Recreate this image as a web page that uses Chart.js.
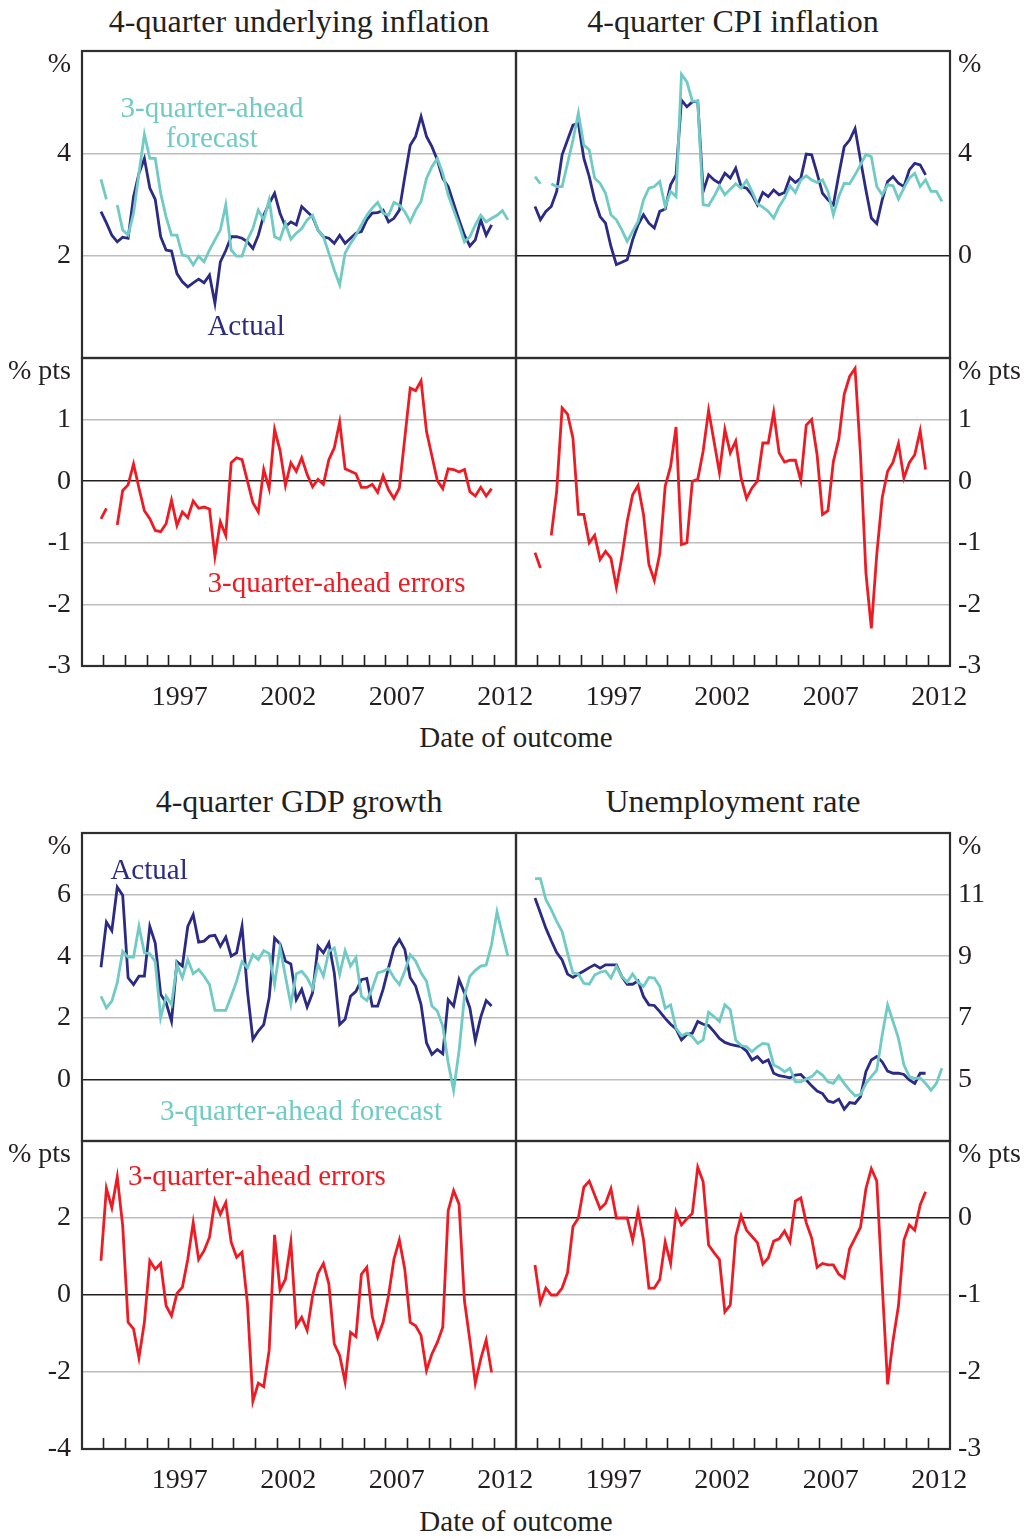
<!DOCTYPE html>
<html>
<head>
<meta charset="utf-8">
<script src="https://cdn.jsdelivr.net/npm/chart.js@4.4.1/dist/chart.umd.min.js"></script>
<style>
  html, body { margin: 0; padding: 0; background: #ffffff; }
  body { width: 1027px; height: 1538px; position: relative; overflow: hidden;
         font-family: 'Liberation Serif', 'Times New Roman', serif; color: #231f20; }
  canvas { position: absolute; }
  .label { position: absolute; white-space: nowrap; transform: translateX(-50%); }
  .title { font-size: 32px; line-height: 32px; }
  .axis-title { font-size: 29px; line-height: 29px; }
</style>
</head>
<body>
<div class="label title" style="left:299px; top:5px;">4-quarter underlying inflation</div>
<div class="label title" style="left:733px; top:5px;">4-quarter CPI inflation</div>
<div class="label axis-title" style="left:516px; top:723px;">Date of outcome</div>
<div class="label title" style="left:299px; top:785px;">4-quarter GDP growth</div>
<div class="label title" style="left:733px; top:785px;">Unemployment rate</div>
<div class="label axis-title" style="left:516px; top:1507px;">Date of outcome</div>

<script>
// ---- Quarterly outcome dates: Dec 1993 to Sep 2012 ----
const firstQuarter = [1993, 4];
const quarterCount = 76;
const quarters = Array.from({ length: quarterCount }, (_, i) => {
  const q = firstQuarter[1] - 1 + i;
  return (firstQuarter[0] + Math.floor(q / 4)) + ' Q' + (q % 4 + 1);
});

// Year axis: tick marks at the start of each year, labels centred on the year
const tickYears = [1994, 1995, 1996, 1997, 1998, 1999, 2000, 2001, 2002, 2003,
                   2004, 2005, 2006, 2007, 2008, 2009, 2010, 2011, 2012];
const labelYears = [1997, 2002, 2007, 2012];

// ---- 4-quarter underlying inflation (%) ----
const underlyingActual = [2.86,2.64,2.40,2.27,2.36,2.34,3.15,3.61,3.90,3.32,
  3.10,2.37,2.11,2.09,1.65,1.49,1.39,1.47,1.54,1.47,
  1.62,1.07,1.88,2.10,2.37,2.37,2.34,2.27,2.14,2.40,
  2.79,3.02,3.22,2.83,2.57,2.66,2.60,2.96,2.86,2.76,
  2.50,2.37,2.34,2.24,2.40,2.24,2.34,2.44,2.47,2.70,
  2.83,2.84,2.89,2.66,2.73,2.89,3.54,4.16,4.33,4.72,
  4.33,4.13,3.87,3.51,3.35,3.02,2.70,2.40,2.19,2.31,
  2.70,2.40,2.60];
const underlyingForecast = [3.49,3.10,null,2.99,2.50,2.40,2.83,3.61,4.37,3.90,
  3.90,3.22,2.76,2.40,2.40,2.01,1.99,1.82,1.99,1.88,
  2.11,2.31,2.50,2.99,2.11,1.99,1.99,2.31,2.53,2.89,
  2.70,3.09,2.37,2.32,2.63,2.32,2.44,2.53,2.70,2.79,
  2.50,2.37,2.05,1.72,1.43,2.05,2.24,2.40,2.60,2.79,
  2.93,3.04,2.83,2.79,3.04,2.99,2.86,2.66,2.89,3.06,
  3.51,3.74,3.90,3.61,3.19,2.89,2.60,2.27,2.37,2.60,
  2.79,2.66,2.73,2.79,2.88,2.70];
const underlyingErrors = [-0.61,-0.44,null,-0.71,-0.15,-0.06,0.28,-0.11,-0.48,-0.61,
  -0.80,-0.82,-0.69,-0.31,-0.72,-0.50,-0.59,-0.32,-0.44,-0.42,
  -0.45,-1.22,-0.66,-0.88,0.30,0.38,0.35,0.00,-0.35,-0.50,
  0.19,-0.12,0.84,0.50,-0.07,0.30,0.16,0.38,0.11,-0.09,
  0.03,-0.05,0.35,0.54,0.96,0.20,0.16,0.12,-0.10,-0.10,
  -0.05,-0.18,0.09,-0.14,-0.28,-0.11,0.70,1.51,1.47,1.63,
  0.81,0.41,0.01,-0.12,0.20,0.19,0.15,0.19,-0.17,-0.24,
  -0.10,-0.24,-0.12];

// ---- 4-quarter CPI inflation (%) ----
const cpiActual = [1.92,1.40,1.73,1.92,2.51,3.94,4.52,5.10,5.17,3.81,
  3.09,2.18,1.53,1.27,0.36,-0.35,-0.26,-0.16,0.62,1.21,
  1.60,1.27,1.08,1.73,1.82,2.77,3.16,6.08,5.82,6.01,
  6.04,2.51,3.16,2.96,2.83,3.22,3.03,3.42,2.70,2.64,
  2.38,1.99,2.47,2.31,2.57,2.38,2.47,3.06,2.86,3.03,
  3.97,3.94,3.22,2.44,2.18,1.99,3.16,4.26,4.52,4.97,
  3.74,2.57,1.47,1.25,2.18,2.90,3.09,2.83,2.70,3.35,
  3.61,3.55,3.16];
const cpiForecast = [3.09,2.81,null,2.81,2.70,2.70,3.61,4.52,5.58,4.32,
  4.13,3.03,2.83,2.44,1.60,1.40,1.01,0.56,0.95,1.34,
  2.18,2.64,2.70,2.90,1.92,2.51,2.31,7.09,6.79,6.04,
  6.04,1.99,1.96,2.31,2.73,2.38,2.60,2.81,2.64,2.94,
  2.51,2.03,1.90,1.73,1.47,1.92,2.25,2.73,2.47,2.96,
  3.12,2.96,2.86,2.96,2.51,1.60,2.31,2.83,2.81,3.16,
  3.55,3.96,3.87,2.70,2.38,2.77,2.73,2.21,2.64,3.03,
  3.22,2.70,2.96,2.51,2.51,2.12];
const cpiErrors = [-1.16,-1.41,null,-0.88,-0.16,1.19,1.09,0.70,-0.54,-0.54,
  -1.00,-0.88,-1.27,-1.14,-1.25,-1.72,-1.24,-0.65,-0.22,-0.07,
  -0.54,-1.35,-1.61,-1.18,-0.08,0.24,0.88,-1.03,-1.00,0.00,
  0.03,0.49,1.15,0.65,0.14,0.84,0.46,0.65,0.05,-0.28,
  -0.11,0.00,0.62,0.62,1.12,0.46,0.31,0.34,0.34,0.01,
  0.91,1.00,0.43,-0.54,-0.48,0.32,0.68,1.41,1.70,1.83,
  0.43,-1.49,-2.39,-1.19,-0.27,0.16,0.31,0.61,0.05,0.30,
  0.43,0.82,0.19];

// ---- 4-quarter GDP growth (%) ----
const gdpActual = [3.64,5.11,4.83,6.24,5.98,3.30,3.08,3.35,3.35,4.97,
  4.43,2.76,2.49,1.89,3.82,3.68,4.97,5.35,4.46,4.49,
  4.65,4.68,4.32,4.62,4.00,4.11,4.97,2.86,1.30,1.57,
  1.78,2.65,4.59,4.40,3.84,3.75,2.59,2.92,2.35,2.81,
  4.32,4.11,4.43,3.46,1.78,1.95,2.70,2.86,3.24,3.28,
  2.38,2.38,2.92,3.62,4.27,4.54,4.22,3.30,3.03,2.43,
  1.19,0.81,0.97,0.83,2.59,2.38,3.24,2.81,2.32,1.26,
  2.02,2.56,2.38];
const gdpForecast = [2.70,2.32,2.54,3.14,4.16,3.97,3.97,4.97,4.11,4.08,
  3.82,2.00,2.70,2.43,3.73,3.30,3.89,3.43,3.57,3.35,
  3.08,2.24,2.24,2.24,2.70,3.19,3.82,3.62,4.05,3.89,
  4.18,4.08,3.08,4.27,3.35,2.43,3.43,3.51,3.30,2.95,
  3.73,3.35,4.16,4.27,3.41,4.18,3.68,3.95,2.70,2.56,
  2.95,3.46,3.51,3.60,3.30,3.08,3.51,4.05,3.84,3.46,
  3.19,2.38,2.22,1.73,0.54,-0.36,0.92,2.70,3.35,3.54,
  3.68,3.71,4.38,5.44,4.70,4.00];
const gdpErrors = [0.89,2.77,2.27,3.07,1.80,-0.71,-0.88,-1.63,-0.71,0.89,
  0.67,0.82,-0.28,-0.54,0.04,0.20,0.93,1.88,0.92,1.15,
  1.50,2.45,2.10,2.40,1.37,0.98,1.11,-0.23,-2.76,-2.29,
  -2.38,-1.44,1.56,0.13,0.41,1.37,-0.80,-0.58,-0.92,-0.02,
  0.56,0.82,0.29,-1.27,-1.57,-2.26,-0.97,-1.08,0.54,0.72,
  -0.56,-1.10,-0.71,-0.02,0.93,1.43,0.67,-0.71,-0.80,-1.05,
  -1.96,-1.53,-1.23,-0.84,2.19,2.71,2.36,-0.15,-1.18,-2.29,
  -1.66,-1.17,-2.01];

// ---- Unemployment rate (%) ----
const unempActual = [10.89,10.40,9.91,9.50,9.12,8.88,8.42,8.31,8.42,8.52,
  8.63,8.72,8.61,8.72,8.72,8.72,8.34,8.09,8.09,8.20,
  7.69,7.42,7.40,7.20,6.98,6.79,6.64,6.28,6.46,6.50,
  6.88,6.79,6.75,6.55,6.33,6.20,6.14,6.10,6.06,5.92,
  5.63,5.74,5.55,5.63,5.20,5.12,5.09,5.05,5.14,5.16,
  4.98,4.79,4.62,4.54,4.30,4.25,4.36,4.03,4.25,4.22,
  4.44,5.25,5.63,5.74,5.57,5.27,5.20,5.20,5.16,4.98,
  4.87,5.20,5.20];
const unempForecast = [11.52,11.52,10.84,10.51,10.13,9.80,9.10,8.45,8.42,8.12,
  8.09,8.39,8.48,8.52,8.29,8.67,8.34,8.16,8.42,8.16,
  8.02,8.31,8.29,8.02,7.31,7.42,6.66,6.42,6.50,6.39,
  6.17,6.28,7.18,7.04,6.88,7.42,7.26,6.28,6.10,6.06,
  5.90,6.06,6.17,6.14,5.47,5.38,5.25,5.36,4.92,4.92,
  5.01,5.09,5.27,5.14,4.92,4.87,5.12,4.87,4.65,4.47,
  4.51,4.87,5.09,5.30,6.44,7.42,6.88,6.33,5.47,5.09,
  5.03,5.05,4.87,4.65,4.87,5.36];
const unempErrors = [-0.61,-1.10,-0.91,-1.00,-1.00,-0.91,-0.71,-0.11,0.00,0.40,
  0.48,0.30,0.12,0.19,0.38,0.00,0.00,0.00,-0.29,0.09,
  -0.28,-0.91,-0.91,-0.80,-0.31,-0.59,0.08,-0.09,-0.01,0.06,
  0.66,0.47,-0.35,-0.45,-0.54,-1.22,-1.13,-0.24,0.03,-0.16,
  -0.24,-0.32,-0.60,-0.52,-0.30,-0.27,-0.17,-0.31,0.22,0.26,
  -0.06,-0.26,-0.64,-0.59,-0.61,-0.61,-0.73,-0.78,-0.40,-0.26,
  -0.12,0.38,0.64,0.48,-0.86,-2.16,-1.59,-1.14,-0.29,-0.09,
  -0.16,0.17,0.34];

// ---- Styling ----
const FONT = "'Liberation Serif', 'Times New Roman', serif";
const INK = '#231f20';
const NAVY = '#2b2a84';
const TEAL = '#6fcbc4';
const RED = '#ed1c24';
const GRID = '#bdbdbd';

// quarter label -> decimal year at the middle of the quarter
function quarterPosition(label) {
  const [y, q] = label.split(' Q').map(Number);
  return y + (q - 0.5) / 4;
}
function toPoints(values) {
  return values.map((v, i) => ({ x: quarterPosition(quarters[i]), y: v }));
}

const framePlugin = {
  id: 'panelFrame',
  afterDraw(chart) {
    const { ctx, chartArea: a } = chart;
    ctx.save();
    ctx.strokeStyle = '#2e2e2e';
    ctx.lineWidth = 2.2;
    ctx.strokeRect(a.left, a.top, a.right - a.left, a.bottom - a.top);
    ctx.restore();
  }
};

const notesPlugin = {
  id: 'seriesNotes',
  afterDatasetsDraw(chart, args, opts) {
    const notes = opts.items || [];
    const { ctx, scales } = chart;
    ctx.save();
    ctx.font = '29px ' + FONT;
    ctx.textAlign = 'center';
    ctx.textBaseline = 'middle';
    notes.forEach(n => {
      ctx.fillStyle = n.color;
      ctx.fillText(n.text, scales.x.getPixelForValue(n.x), scales.y.getPixelForValue(n.y));
    });
    ctx.restore();
  }
};

const PAD = 40;
function makePanel(p) {
  const isLeft = p.side === 'left';
  const axisW = isLeft ? 82 : 77;
  const xAxisH = 60;
  const padL = isLeft ? 0 : 10;
  const padR = isLeft ? 80 : 0;
  const areaW = p.x1 - p.x0, areaH = p.y1 - p.y0;
  const cvLeft = isLeft ? p.x0 - axisW : p.x0 - padL;
  const cvWidth = isLeft ? axisW + areaW + padR : padL + areaW + axisW;
  const cvTop = p.y0 - PAD;
  const cvHeight = PAD + areaH + (p.showX ? xAxisH : PAD);

  const canvas = document.createElement('canvas');
  canvas.width = cvWidth; canvas.height = cvHeight;
  canvas.style.left = cvLeft + 'px'; canvas.style.top = cvTop + 'px';
  canvas.style.width = cvWidth + 'px'; canvas.style.height = cvHeight + 'px';
  document.body.appendChild(canvas);

  const datasets = p.series.map(s => ({
    data: toPoints(s.values),
    borderColor: s.color,
    borderWidth: 2.8,
    pointRadius: 0,
    fill: false,
    tension: 0,
    spanGaps: false,
    order: s.order
  }));

  return new Chart(canvas, {
    type: 'line',
    data: { datasets },
    options: {
      responsive: false,
      animation: false,
      events: [],
      layout: { padding: { top: PAD, bottom: p.showX ? 0 : PAD, left: padL, right: padR } },
      plugins: {
        legend: { display: false },
        tooltip: { enabled: false },
        seriesNotes: { items: p.notes || [] }
      },
      scales: {
        x: {
          type: 'linear', min: 1993, max: 2013,
          display: !!p.showX,
          afterBuildTicks: s => {
            const vals = tickYears.concat(labelYears.map(y => y + 0.5)).sort((a, b) => a - b);
            s.ticks = vals.map(v => ({ value: v }));
          },
          afterFit: s => { if (p.showX) s.height = xAxisH; },
          ticks: {
            autoSkip: false, maxRotation: 0, minRotation: 0, padding: 26,
            color: INK, font: { family: FONT, size: 28 },
            callback: v => (v % 1 === 0.5 ? String(Math.floor(v)) : '')
          },
          grid: {
            drawOnChartArea: false, drawTicks: true, tickLength: -11, tickWidth: 1.6,
            tickColor: ctx => (ctx.tick && ctx.tick.value % 1 === 0) ? INK : 'rgba(0,0,0,0)'
          },
          border: { display: false }
        },
        y: {
          type: 'linear', position: p.side, min: p.yMin, max: p.yMax,
          afterFit: s => { s.width = axisW; },
          ticks: {
            stepSize: p.yStep, autoSkip: false, padding: isLeft ? 11 : 8,
            color: INK, font: { family: FONT, size: 28, lineHeight: 0.95 },
            callback: v => {
              if (v === p.yMax) return ['', p.unit];
              if (v === p.yMin && !p.showX) return '';
              return String(v);
            }
          },
          grid: {
            drawTicks: false, lineWidth: 1.6,
            color: ctx => (ctx.tick && ctx.tick.value === 0) ? INK : GRID
          },
          border: { display: false }
        }
      }
    },
    plugins: [framePlugin, notesPlugin]
  });
}

const L = { x0: 82, x1: 516 }, R = { x0: 516, x1: 950 };

// Upper block: inflation
makePanel(Object.assign({ side: 'left', y0: 51, y1: 358, yMin: 0, yMax: 6, yStep: 2, unit: '%',
  series: [
    { values: underlyingForecast, color: TEAL, order: 0 },
    { values: underlyingActual, color: NAVY, order: 1 }
  ],
  notes: [
    { text: '3-quarter-ahead', x: 1998.99, y: 4.85, color: TEAL },
    { text: 'forecast', x: 1998.99, y: 4.28, color: TEAL },
    { text: 'Actual', x: 2000.56, y: 0.59, color: NAVY }
  ] }, L));
makePanel(Object.assign({ side: 'right', y0: 51, y1: 358, yMin: -4, yMax: 8, yStep: 4, unit: '%',
  series: [
    { values: cpiForecast, color: TEAL, order: 0 },
    { values: cpiActual, color: NAVY, order: 1 }
  ] }, R));
makePanel(Object.assign({ side: 'left', y0: 358, y1: 666, yMin: -3, yMax: 2, yStep: 1, unit: '% pts', showX: true,
  series: [{ values: underlyingErrors, color: RED, order: 0 }],
  notes: [{ text: '3-quarter-ahead errors', x: 2004.73, y: -1.67, color: RED }] }, L));
makePanel(Object.assign({ side: 'right', y0: 358, y1: 666, yMin: -3, yMax: 2, yStep: 1, unit: '% pts', showX: true,
  series: [{ values: cpiErrors, color: RED, order: 0 }] }, R));

// Lower block: activity
makePanel(Object.assign({ side: 'left', y0: 833, y1: 1141, yMin: -2, yMax: 8, yStep: 2, unit: '%',
  series: [
    { values: gdpForecast, color: TEAL, order: 0 },
    { values: gdpActual, color: NAVY, order: 1 }
  ],
  notes: [
    { text: 'Actual', x: 1996.09, y: 6.76, color: NAVY },
    { text: '3-quarter-ahead forecast', x: 2003.09, y: -1.07, color: TEAL }
  ] }, L));
makePanel(Object.assign({ side: 'right', y0: 833, y1: 1141, yMin: 3, yMax: 13, yStep: 2, unit: '%',
  series: [
    { values: unempForecast, color: TEAL, order: 0 },
    { values: unempActual, color: NAVY, order: 1 }
  ] }, R));
makePanel(Object.assign({ side: 'left', y0: 1141, y1: 1449, yMin: -4, yMax: 4, yStep: 2, unit: '% pts', showX: true,
  series: [{ values: gdpErrors, color: RED, order: 0 }],
  notes: [{ text: '3-quarter-ahead errors', x: 2001.06, y: 3.05, color: RED }] }, L));
makePanel(Object.assign({ side: 'right', y0: 1141, y1: 1449, yMin: -3, yMax: 1, yStep: 1, unit: '% pts', showX: true,
  series: [{ values: unempErrors, color: RED, order: 0 }] }, R));
</script>
</body>
</html>
